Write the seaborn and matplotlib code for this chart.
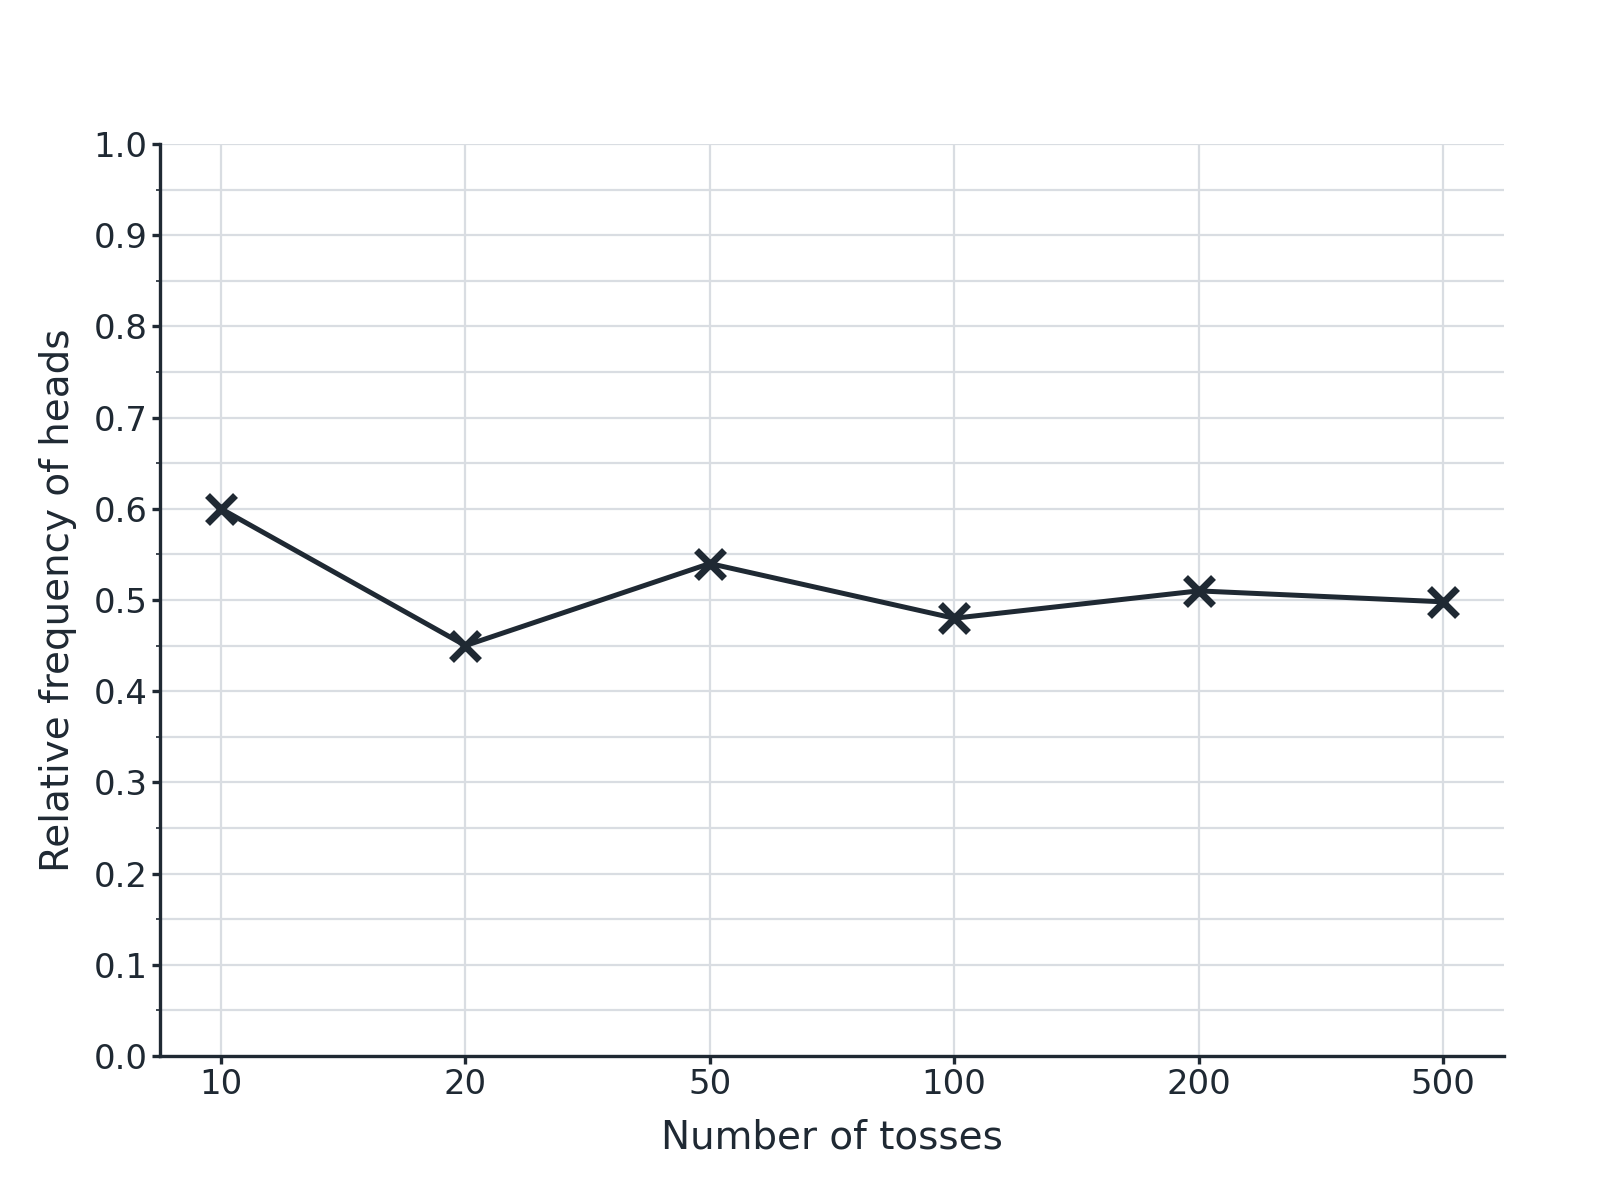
import matplotlib
matplotlib.use("Agg")
import matplotlib.pyplot as plt
import seaborn as sns
import pandas as pd
from matplotlib.ticker import MultipleLocator

tosses = ["10", "20", "50", "100", "200", "500"]
rel_freq = [0.60, 0.45, 0.54, 0.48, 0.51, 0.498]

df = pd.DataFrame({"tosses": tosses, "freq": rel_freq})

sns.set_theme(style="white")
plt.rcParams['font.family'] = ['DejaVu Sans']
dark = "#1f2933"
grid = "#d9dde2"

fig = plt.figure(figsize=(8, 6), dpi=200)
ax = fig.add_axes([0.100, 0.120, 0.840, 0.760])

sns.pointplot(data=df, x="tosses", y="freq", ax=ax, color=dark,
              markers="x", linestyles="-", errorbar=None)
for line in ax.lines:
    line.set_linewidth(1.8)
    line.set_markersize(10)
    line.set_markeredgewidth(2.5)
    line.set_zorder(5)
for coll in ax.collections:
    coll.set_sizes([100])
    coll.set_linewidth(2.5)
    coll.set_zorder(6)

ax.set_xlim(-0.25, 5.25)
ax.set_ylim(0, 1.0)
ax.yaxis.set_major_locator(MultipleLocator(0.1))
ax.yaxis.set_minor_locator(MultipleLocator(0.05))
ax.set_axisbelow(True)
ax.grid(True, which="major", color=grid, linewidth=0.8)
ax.grid(True, which="minor", axis="y", color=grid, linewidth=0.8)

for s in ["top", "right"]:
    ax.spines[s].set_visible(False)
for s in ["left", "bottom"]:
    ax.spines[s].set_color(dark)
    ax.spines[s].set_linewidth(1.2)

ax.tick_params(axis="both", which="major", length=3.0, width=1.2, color=dark, pad=1.5,
               labelsize=12.2, labelcolor=dark, left=True, bottom=True)
ax.tick_params(axis="y", which="minor", length=1.5, width=0.6, color=dark, left=True)
ax.set_yticklabels([f"{v:.1f}" for v in ax.get_yticks()])

ax.set_xlabel("Number of tosses", fontsize=14, color=dark, labelpad=6)
ax.set_ylabel("Relative frequency of heads", fontsize=14, color=dark, labelpad=6)

fig.savefig("out.png", dpi=200, facecolor="white")
